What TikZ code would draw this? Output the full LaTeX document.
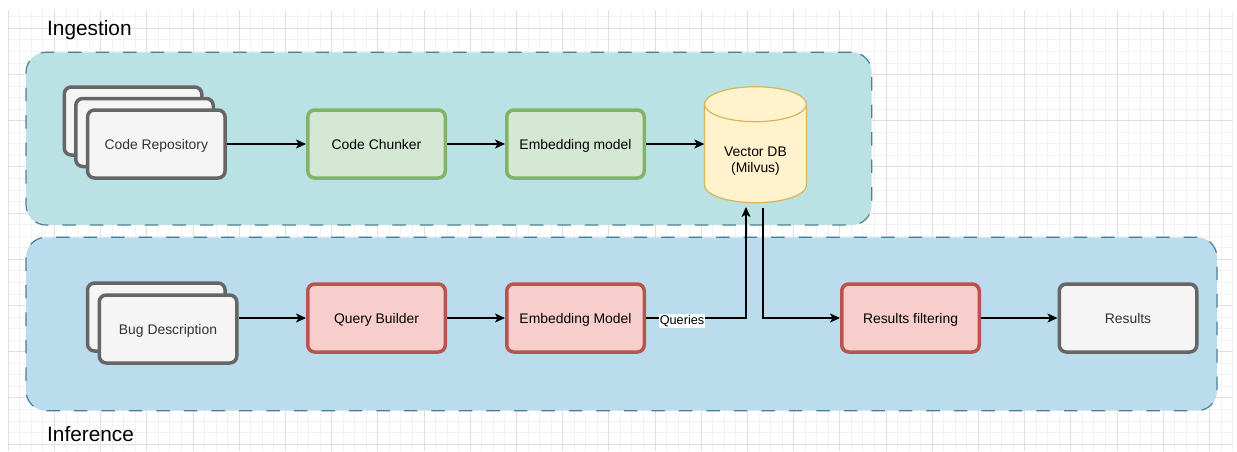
\documentclass[tikz,border=0pt]{standalone}
\usepackage{fontspec}
\setmainfont{Liberation Sans}
\usetikzlibrary{arrows.meta}

\definecolor{gridMinor}{RGB}{242,242,242}
\definecolor{gridMajor}{RGB}{224,224,224}
\definecolor{ingestFill}{RGB}{186,226,228}
\definecolor{ingestStroke}{RGB}{78,130,140}
\definecolor{inferFill}{RGB}{186,220,237}
\definecolor{inferStroke}{RGB}{70,125,160}
\definecolor{grayStroke}{HTML}{666666}
\definecolor{grayFill}{HTML}{F5F5F5}
\definecolor{grayText}{HTML}{333333}
\definecolor{greenStroke}{HTML}{82B366}
\definecolor{greenFill}{HTML}{D5E8D4}
\definecolor{redStroke}{HTML}{B85450}
\definecolor{redFill}{HTML}{F8CECC}
\definecolor{dbStroke}{HTML}{D6B656}
\definecolor{dbFill}{HTML}{FFF2CC}

\begin{document}
\begin{tikzpicture}[x=1pt, y=-1pt,
  box/.style={rectangle, rounded corners=7pt, line width=3.5pt,
    minimum width=137.5pt, minimum height=68pt, inner sep=0pt,
    text height=10pt, text depth=0pt,
    font=\fontsize{13.9}{16.6}\selectfont},
  graybox/.style={box, draw=grayStroke, fill=grayFill, text=grayText},
  greenbox/.style={box, draw=greenStroke, fill=greenFill},
  redbox/.style={box, draw=redStroke, fill=redFill},
  group/.style={rectangle, rounded corners=20pt, line width=1.2pt,
    dash pattern=on 13.5pt off 14pt, inner sep=0pt},
  flow/.style={line width=1.1pt, -{Stealth[length=10pt,width=9pt,inset=2.5pt]}},
  grouptitle/.style={font=\fontsize{20.8}{24}\selectfont, inner sep=0pt, anchor=west},
  edgelabel/.style={font=\fontsize{12.7}{14}\selectfont, fill=white,
    text height=9.2pt, text depth=2.8pt, inner xsep=0.5pt, inner ysep=1pt},
  dbshape/.style={line width=1.2pt, draw=dbStroke, fill=dbFill},
  gridminor/.style={draw=gridMinor, line width=0.9pt},
  gridmajor/.style={draw=gridMajor, line width=0.9pt}]

\useasboundingbox (0,0) rectangle (1237,451);
\fill[white] (0,0) rectangle (1237,451);

% background grid
\begin{scope}
  \clip (8,10) rectangle (1233,451);
  \foreach \i in {0,...,106} \draw[gridminor] ({8.2+11.55*\i},10) -- ({8.2+11.55*\i},451);
  \foreach \j in {0,...,37} \draw[gridminor] (8,{16.75+11.55*\j}) -- (1233,{16.75+11.55*\j});
  \foreach \i in {0,...,26} \draw[gridmajor] ({8.2+46.2*\i},10) -- ({8.2+46.2*\i},451);
  \foreach \j in {0,...,9} \draw[gridmajor] (8,{28.3+46.2*\j}) -- (1233,{28.3+46.2*\j});
\end{scope}

% groups
\node[group, draw=ingestStroke, fill=ingestFill, minimum width=845.7pt, minimum height=172.7pt]
  (ingestion) at (448.85,138.65) {};
\node[group, draw=inferStroke, fill=inferFill, minimum width=1191pt, minimum height=173.4pt]
  (inference) at (621.5,324) {};
\node[grouptitle] (ingestTitle) at (47,30) {Ingestion};
\node[grouptitle] (inferTitle) at (47,434) {Inference};

% ingestion pipeline
\node[graybox] (repoA) at (133,121) {};
\node[graybox] (repoB) at (144.5,132.5) {};
\node[graybox] (repo) at (156.3,144) {Code Repository};
\node[greenbox] (chunker) at (376.5,144) {Code Chunker};
\node[greenbox] (embA) at (575.5,144) {Embedding model};

% vector database cylinder
\path[dbshape] (704.5,104.2) -- (704.5,185.2)
  arc[start angle=180, end angle=0, x radius=51, y radius=17.5]
  -- (806.5,104.2)
  arc[start angle=0, end angle=-180, x radius=51, y radius=17.5] -- cycle;
\draw[dbshape, fill=none] (704.5,104.2)
  arc[start angle=180, end angle=0, x radius=51, y radius=17.5];
\node[minimum width=102pt, minimum height=116pt, inner sep=0pt] (db) at (755.5,144.7) {};
\node[align=center, inner sep=0pt, font=\fontsize{13.9}{16.6}\selectfont] (dbLabel) at (755.5,161)
  {Vector DB\\(Milvus)};
\coordinate (dbIn) at (746,207);
\coordinate (dbOut) at (763,207.5);

% inference pipeline
\node[graybox] (bugA) at (156.3,317) {};
\node[graybox] (bug) at (168,329) {Bug Description};
\node[redbox] (query) at (376.5,318) {Query Builder};
\node[redbox] (embB) at (575.5,318) {Embedding Model};
\node[redbox] (filter) at (910.5,318) {Results filtering};
\node[graybox] (results) at (1128,318) {Results};

% connectors
\draw[flow] (repo.east) -- (chunker.west);
\draw[flow] (chunker.east) -- (embA.west);
\draw[flow] (embA.east) -- (embA.east -| db.west);
\draw[flow] (bug.east |- query.west) -- (query.west);
\draw[flow] (query.east) -- (embB.west);
\draw[flow] (embB.east) -- (embB.east -| dbIn) -- (dbIn);
\node[edgelabel] (queriesLabel) at (682,321) {Queries};
\draw[flow] (dbOut) -- (dbOut |- filter.west) -- (filter.west);
\draw[flow] (filter.east) -- (results.west);

\end{tikzpicture}
\end{document}
